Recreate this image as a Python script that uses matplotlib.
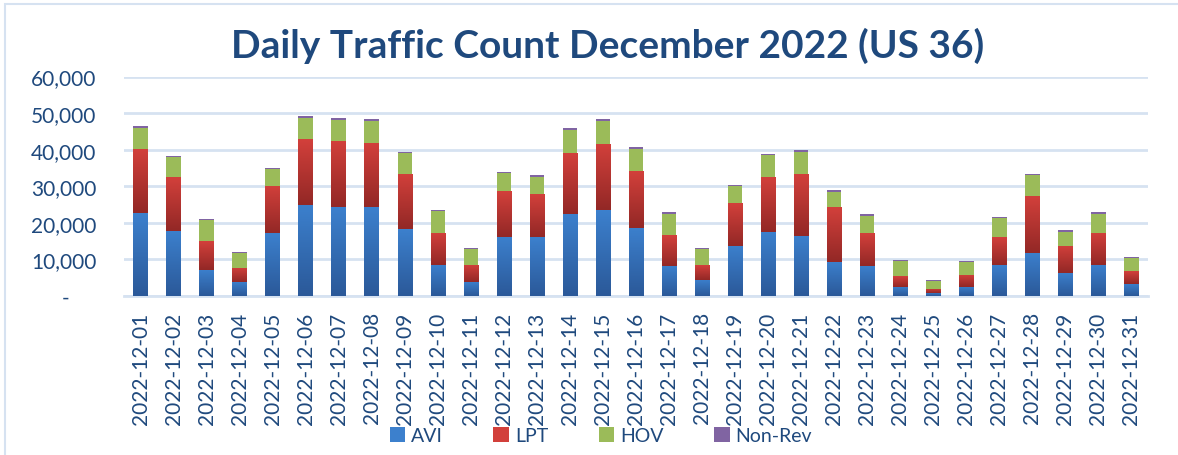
import matplotlib
matplotlib.use('Agg')
import matplotlib.pyplot as plt
import numpy as np
from matplotlib.colors import LinearSegmentedColormap
from matplotlib.ticker import FuncFormatter
from matplotlib.patches import Rectangle

plt.rcParams['font.family'] = ['Lato', 'DejaVu Sans']

# daily counts
dates = ['2022-12-%02d' % d for d in range(1, 32)]
avi = [22600, 17900, 7200, 3900, 17100, 25000, 24200, 24200, 18200, 8600,
       3900, 16250, 16000, 22550, 23400, 18700, 8300, 4500, 13800, 17600,
       16500, 9400, 8300, 2550, 900, 2550, 8600, 11850, 6400, 8600, 3400]
lpt = [17500, 14600, 7700, 3850, 12850, 17800, 18100, 17550, 15050, 8750,
       4700, 12350, 11750, 16450, 18050, 15350, 8250, 4100, 11500, 14800,
       16750, 14900, 8800, 3000, 1100, 3300, 7650, 15350, 7400, 8750, 3550]
hov = [5750, 5500, 6000, 3950, 4750, 5750, 5750, 6000, 5900, 5750,
       4350, 4900, 4650, 6300, 6300, 6050, 6000, 4350, 4650, 6050,
       6000, 4000, 4900, 4100, 2200, 3550, 5200, 5750, 3800, 5200, 3550]
nonrev = [550, 200, 250, 250, 270, 550, 550, 550, 350, 280,
          280, 280, 550, 550, 550, 550, 280, 280, 280, 280,
          550, 550, 550, 300, 280, 280, 280, 280, 550, 280, 280]

series = [('AVI', avi, '#3c80cd', '#2b5999'),
          ('LPT', lpt, '#d2403b', '#932826'),
          ('HOV', hov, '#9bbb59', '#9bbb59'),
          ('Non-Rev', nonrev, '#8064a2', '#8064a2')]

text_col = '#1f497d'
grid_col = '#d6e2f1'

fig = plt.figure(figsize=(11.78, 4.56), dpi=100)
ax = fig.add_axes([0.1053, 0.3487, 0.8692, 0.4813])

# light frame of the chart area
fig.patches.append(Rectangle((5 / 1178, -0.1), 1.2, 1 - 5 / 456 + 0.1,
                             transform=fig.transFigure, fill=False,
                             edgecolor=grid_col, linewidth=1.5))

x = np.arange(len(dates))
bottom = np.zeros(len(dates))
handles = []
grad = np.linspace(0, 1, 64).reshape(-1, 1)
for name, vals, top_c, bot_c in series:
    bars = ax.bar(x, vals, 0.44, bottom=bottom, color=top_c, label=name, zorder=3)
    if top_c != bot_c:
        cmap = LinearSegmentedColormap.from_list(name, [bot_c, top_c])
        for p in bars:
            bx, by = p.get_x(), p.get_y()
            w, h = p.get_width(), p.get_height()
            im = ax.imshow(grad, cmap=cmap, origin='lower', aspect='auto',
                           extent=[bx, bx + w, by, by + h], zorder=3.5)
            im.set_clip_path(p)
    handles.append(Rectangle((0, 0), 1, 1, facecolor=top_c))
    bottom += np.array(vals)

ax.set_xlim(-0.5, len(dates) - 0.5)
ax.set_ylim(0, 60000)
ax.set_yticks(range(0, 60001, 10000))
ax.yaxis.set_major_formatter(FuncFormatter(lambda v, p: '-     ' if v == 0 else f'{v:,.0f}'))
ax.set_xticks(x)
ax.set_xticklabels(dates, rotation=90)
ax.tick_params(axis='y', length=0, pad=20, labelsize=15, labelcolor=text_col)
ax.tick_params(axis='x', length=0, pad=11, labelsize=15, labelcolor=text_col)
ax.grid(axis='y', color=grid_col, linewidth=2, zorder=0)
for s in ['top', 'right', 'left']:
    ax.spines[s].set_visible(False)
ax.spines['bottom'].set_color(grid_col)
ax.spines['bottom'].set_linewidth(2)

fig.text(0.516, 0.90, 'Daily Traffic Count December 2022 (US 36)', ha='center',
         va='center', fontsize=28, fontweight='bold', color=text_col)

fig.legend(handles, [s[0] for s in series], loc='center', bbox_to_anchor=(0.51, 0.042),
           ncol=4, frameon=False, fontsize=14, labelcolor=text_col,
           handlelength=0.8, handleheight=0.8, handletextpad=0.3, columnspacing=2.6)

fig.savefig('out.png', dpi=100)
